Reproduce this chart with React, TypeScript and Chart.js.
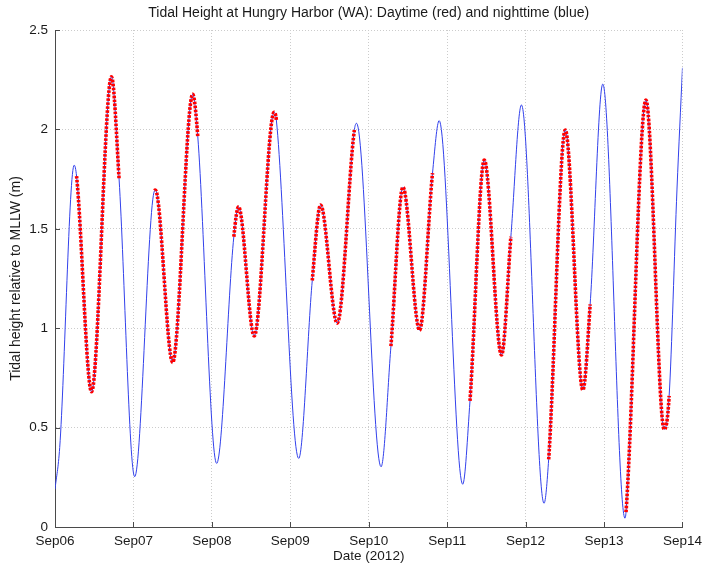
import React, { useEffect, useRef } from "react";
import { Chart, registerables } from "chart.js";

Chart.register(...registerables);

// Tidal curve: extrema and a few read points (x = days after Sep06 00:00, y = metres above MLLW)
const curveDays = [
  0, 0.06, 0.245, 0.466, 0.72, 1.016, 1.28, 1.5, 1.756, 2.061, 2.34, 2.54, 2.794,
  3.107, 3.386, 3.598, 3.844, 4.157, 4.436, 4.648, 4.898, 5.198, 5.473, 5.693,
  5.947, 6.235, 6.506, 6.73, 6.984, 7.267, 7.534, 7.767, 7.93, 8.0,
];
const curveHeights = [
  0.19, 0.4, 1.82, 0.68, 2.265, 0.253, 1.695, 0.828, 2.177, 0.32, 1.611, 0.961, 2.086,
  0.345, 1.62, 1.025, 2.031, 0.303, 1.709, 0.991, 2.044, 0.215, 1.846, 0.865,
  2.123, 0.119, 1.997, 0.689, 2.228, 0.044, 2.148, 0.491, 1.7, 2.31,
];

// Start of daytime each day (red begins) and the height there
const sunriseDays = [0.275, 1.27, 2.28, 3.28, 4.283, 5.291, 6.294, 7.28];
const sunriseHeights = [1.765, 1.693, 1.46, 1.24, 0.91, 0.635, 0.34, 0.075];
// End of daytime each day (red ends) and the height there
const sunsetDays = [0.817, 1.82, 2.822, 3.818, 4.813, 5.812, 6.823, 7.83];
const sunsetHeights = [1.75, 1.966, 2.047, 2.0, 1.78, 1.46, 1.12, 0.66];

const xTickLabels = ["Sep06", "Sep07", "Sep08", "Sep09", "Sep10", "Sep11", "Sep12", "Sep13", "Sep14"];
const yTickLabels = ["0", "0.5", "1", "1.5", "2", "2.5"];

const TITLE = "Tidal Height at Hungry Harbor (WA): Daytime (red) and nighttime (blue)";
const X_TITLE = "Date (2012)";
const Y_TITLE = "Tidal height relative to MLLW (m)";

const BLUE = "rgb(50,65,235)";
const RED = "rgb(255,0,0)";
const AXIS = "#4a4a4a";
const TEXT = "#1a1a1a";
const FONT = "'Liberation Sans', Arial, sans-serif";

function isDay(x: number): boolean {
  for (let i = 0; i < sunriseDays.length; i++) {
    if (x >= sunriseDays[i] && x <= sunsetDays[i]) return true;
  }
  return false;
}

const inwardTicks = {
  id: "inwardTicks",
  afterDatasetsDraw(chart: any) {
    const { ctx, chartArea, scales } = chart;
    const xs = scales.x;
    const ys = scales.y;
    ctx.save();
    ctx.strokeStyle = AXIS;
    ctx.lineWidth = 1;
    ctx.beginPath();
    xs.ticks.forEach((t: any) => {
      const px = Math.round(xs.getPixelForValue(t.value)) + 0.5;
      ctx.moveTo(px, chartArea.bottom);
      ctx.lineTo(px, chartArea.bottom - 5);
    });
    ys.ticks.forEach((t: any) => {
      const py = Math.round(ys.getPixelForValue(t.value)) + 0.5;
      ctx.moveTo(chartArea.left, py);
      ctx.lineTo(chartArea.left + 5, py);
    });
    ctx.stroke();
    ctx.restore();
  },
};

export default function App() {
  const ref = useRef<HTMLCanvasElement>(null);

  useEffect(() => {
    if (!ref.current) return;
    const pts: { x: number; y: number }[] = [];
    curveDays.forEach((d, i) => pts.push({ x: d, y: curveHeights[i] }));
    sunriseDays.forEach((d, i) => pts.push({ x: d, y: sunriseHeights[i] }));
    sunsetDays.forEach((d, i) => pts.push({ x: d, y: sunsetHeights[i] }));
    pts.sort((a, b) => a.x - b.x);

    Chart.defaults.font.family = FONT;
    Chart.defaults.color = TEXT;

    const chart = new Chart(ref.current, {
      type: "line",
      data: {
        datasets: [
          {
            label: "Daytime",
            data: pts,
            borderColor: RED,
            borderWidth: 3.6,
            borderDash: [2.6, 1.4],
            borderCapStyle: "butt",
            pointRadius: 0,
            cubicInterpolationMode: "monotone",
            tension: 0.4,
            fill: false,
            segment: {
              borderColor: (c: any) =>
                isDay((c.p0.parsed.x + c.p1.parsed.x) / 2) ? RED : "rgba(0,0,0,0)",
            },
          },
          {
            label: "Tide",
            data: pts,
            borderColor: BLUE,
            borderWidth: 1,
            pointRadius: 0,
            cubicInterpolationMode: "monotone",
            tension: 0.4,
            fill: false,
          },
        ],
      },
      options: {
        responsive: false,
        animation: false,
        events: [],
        layout: { padding: { left: 0, right: 23, top: 0, bottom: 0 } },
        plugins: {
          legend: { display: false },
          tooltip: { enabled: false },
          title: {
            display: true,
            text: TITLE,
            fullSize: false,
            color: TEXT,
            font: { family: FONT, size: 14, weight: "normal" },
            padding: { top: 5, bottom: 8.2 },
          },
        },
        scales: {
          x: {
            type: "linear",
            min: 0,
            max: 8,
            afterFit: (s: any) => {
              s.height = 44;
            },
            ticks: {
              stepSize: 1,
              autoSkip: false,
              maxRotation: 0,
              padding: 6,
              color: TEXT,
              font: { size: 13.5 },
              callback: (v: any) => xTickLabels[Math.round(Number(v))] ?? "",
            },
            grid: { color: "#cccccc", drawTicks: false, lineWidth: 1 },
            border: { display: true, color: AXIS, width: 1, dash: [1, 2] },
            title: {
              display: true,
              text: X_TITLE,
              color: TEXT,
              font: { size: 13.5 },
              padding: { top: 0, bottom: 7 },
            },
          },
          y: {
            type: "linear",
            min: 0,
            max: 2.5,
            afterFit: (s: any) => {
              s.width = 55;
            },
            ticks: {
              stepSize: 0.5,
              padding: 7,
              color: TEXT,
              font: { size: 13.5 },
              callback: (v: any) => yTickLabels[Math.round(Number(v) * 2)] ?? "",
            },
            grid: { color: "#cccccc", drawTicks: false, lineWidth: 1 },
            border: { display: true, color: AXIS, width: 1, dash: [1, 2] },
            title: {
              display: true,
              text: Y_TITLE,
              color: TEXT,
              font: { size: 14 },
              padding: { top: 8, bottom: 0 },
            },
          },
        },
      },
      plugins: [inwardTicks],
    });
    return () => chart.destroy();
  }, []);

  return (
    <div style={{ position: "absolute", left: 0, top: 0, width: 708, height: 571, background: "#fff" }}>
      <canvas ref={ref} width={708} height={571} style={{ display: "block" }} />
    </div>
  );
}
